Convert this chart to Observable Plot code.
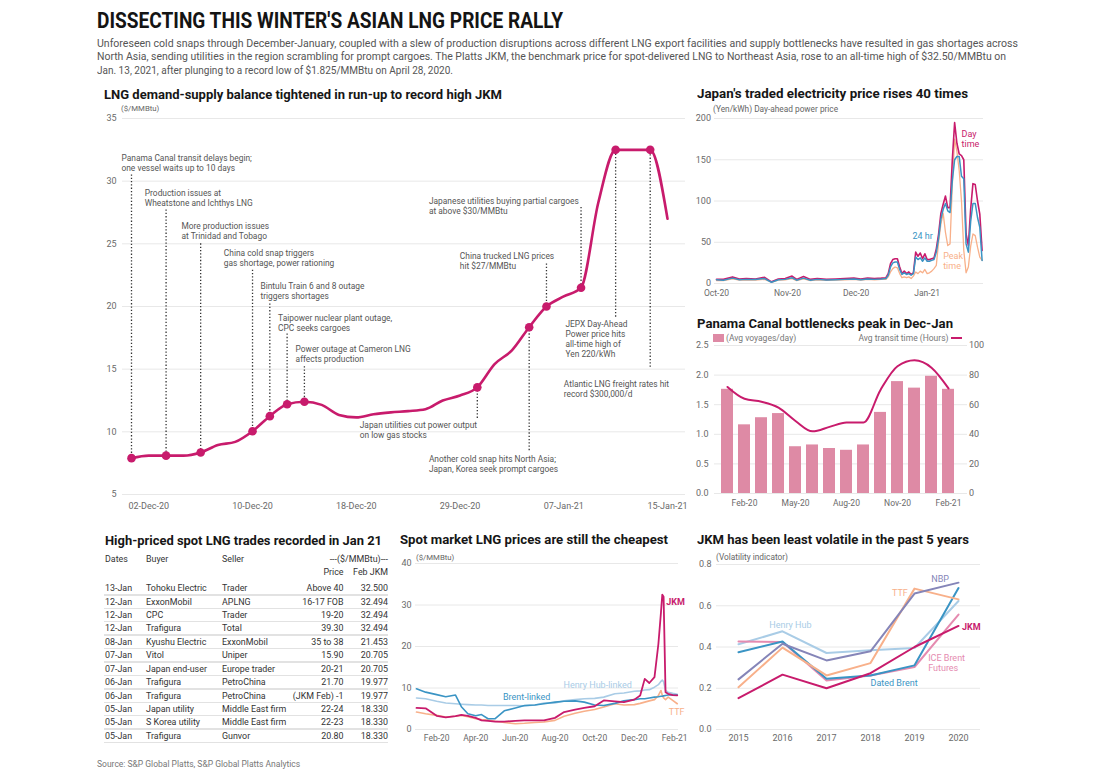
<!DOCTYPE html>
<html><head><meta charset="utf-8">
<script src="https://cdn.jsdelivr.net/npm/d3@7"></script>
<script src="https://cdn.jsdelivr.net/npm/@observablehq/plot@0.6"></script>
<style>
body{margin:0;background:#fff;}
#root{position:relative;width:1100px;height:779px;overflow:hidden;background:#fff;font-family:Roboto,sans-serif;}
.t{position:absolute;white-space:pre;}
.abs{position:absolute;}
</style></head><body><div id="root"></div>
<script>
// ---------- DATA ----------
// Panel 1: JKM daily (trading days)
const jkmDays = ["01-Dec-20","02-Dec-20","03-Dec-20","04-Dec-20","07-Dec-20","08-Dec-20","09-Dec-20","10-Dec-20","11-Dec-20","14-Dec-20","15-Dec-20","16-Dec-20","17-Dec-20","18-Dec-20","21-Dec-20","22-Dec-20","23-Dec-20","24-Dec-20","28-Dec-20","29-Dec-20","30-Dec-20","31-Dec-20","04-Jan-21","05-Jan-21","06-Jan-21","07-Jan-21","08-Jan-21","11-Jan-21","12-Jan-21","13-Jan-21","14-Jan-21","15-Jan-21"];
const jkmValues = [7.9,8.1,8.1,8.1,8.35,8.95,9.2,10.05,11.25,12.2,12.4,12.15,11.35,11.15,11.4,11.55,11.65,11.8,12.5,12.9,13.55,15.4,16.5,18.35,20.0,20.8,21.5,28.3,32.5,32.5,32.5,27.0];
const jkmTicks = ["02-Dec-20","10-Dec-20","18-Dec-20","29-Dec-20","07-Jan-21","15-Jan-21"];
const jkmYTicks = [5,10,15,20,25,30,35];
const jkmEvents = [
  {day:"01-Dec-20", end:30.5, text:"Panama Canal transit delays begin;\none vessel waits up to 10 days", tx:-0.58, ty:31.84},
  {day:"03-Dec-20", end:27.7, text:"Production issues at\nWheatstone and Ichthys LNG", tx:0.77, ty:29.05},
  {day:"07-Dec-20", end:25.0, text:"More production issues\nat Trinidad and Tobago", tx:2.89, ty:26.41},
  {day:"10-Dec-20", end:22.9, text:"China cold snap triggers\ngas shortage, power rationing", tx:5.34, ty:24.26},
  {day:"11-Dec-20", end:20.2, text:"Bintulu Train 6 and 8 outage\ntriggers shortages", tx:7.46, ty:21.6},
  {day:"14-Dec-20", end:17.8, text:"Taipower nuclear plant outage,\nCPC seeks cargoes", tx:8.48, ty:19.02},
  {day:"15-Dec-20", end:15.2, text:"Power outage at Cameron LNG\naffects production", tx:9.49, ty:16.55},
  {day:"30-Dec-20", end:11.07, text:"Japan utilities cut power output\non low gas stocks", tx:13.2, ty:10.51},
  {day:"05-Jan-21", end:8.5, text:"Another cold snap hits North Asia;\nJapan, Korea seek prompt cargoes", tx:17.2, ty:7.77},
  {day:"06-Jan-21", end:23.4, text:"China trucked LNG prices\nhit $27/MMBtu", tx:18.99, ty:24.0},
  {day:"08-Jan-21", end:27.9, text:"Japanese utilities buying partial cargoes\nat above $30/MMBtu", tx:17.2, ty:28.38},
  {day:"12-Jan-21", end:19.15, text:"JEPX Day-Ahead\nPower price hits\nall-time high of\nYen 220/kWh", tx:25.1, ty:18.57},
  {day:"14-Jan-21", end:15.15, text:"Atlantic LNG freight rates hit\nrecord $300,000/d", tx:25.0, ty:13.75}
];

// Panel 2: JEPX day-ahead prices (Yen/kWh)
const elecDates = ["2020-10-01","2020-10-04","2020-10-08","2020-10-11","2020-10-14","2020-10-18","2020-10-22","2020-10-25","2020-10-28","2020-10-31","2020-11-03","2020-11-05","2020-11-08","2020-11-11","2020-11-14","2020-11-18","2020-11-22","2020-11-26","2020-11-30","2020-12-03","2020-12-06","2020-12-09","2020-12-12","2020-12-14","2020-12-15","2020-12-16","2020-12-17","2020-12-18","2020-12-19","2020-12-20","2020-12-21","2020-12-22","2020-12-23","2020-12-24","2020-12-25","2020-12-26","2020-12-27","2020-12-28","2020-12-29","2020-12-30","2020-12-31","2021-01-01","2021-01-02","2021-01-03","2021-01-04","2021-01-05","2021-01-06","2021-01-07","2021-01-08","2021-01-09","2021-01-10","2021-01-11","2021-01-12","2021-01-13","2021-01-14","2021-01-15","2021-01-16","2021-01-17","2021-01-18","2021-01-19","2021-01-20","2021-01-21","2021-01-22","2021-01-23","2021-01-24","2021-01-25"];
const elecDay  = [5,5,8,5.5,6,5.5,7.5,2,5.5,6,9,5,8.5,5,6,5,5.5,6,6.5,5.5,6.5,6,6.5,7,12,24,29,30,30,20,12,15,12,14,11,13,38,33,37,30,36,29,29,30,31,42,60,85,96,106,92,92,150,195,170,157,155,150,60,46,90,121,120,100,84,40];
const elec24h  = [4.5,4,6.5,4.5,5,4.8,6,1.5,4.5,5,7,4,6.5,4,5,4.2,4.5,5,5.5,4.5,5.5,5,5.5,6,10,20,25,26,26,17,11,13,11,12,10,12,32,29,31,27,31,27,27,28,29,38,55,78,90,97,88,86,125,150,154,154,130,127,48,38,75,97,97,80,68,28];
const elecPeak = [3.5,3.5,5.5,4,4.5,4.2,5,1.5,4,4.5,6,3.5,5.5,3.5,4.5,3.8,4,4.5,5,4,5,4.5,5,5,8,14,18,20,19,12,7,8,7,8,6,9,14,12,15,13,17,12,13,15,18,22,50,72,85,62,46,48,120,175,160,137,100,40,13,20,45,60,58,44,32,28];
const elecYTicks = [0,50,100,150,200];
const elecXTicks = ["2020-10-01","2020-11-01","2020-12-01","2021-01-01"];

// Panel 3: Panama Canal
const canalMonths = ["Jan-20","Feb-20","Mar-20","Apr-20","May-20","Jun-20","Jul-20","Aug-20","Sep-20","Oct-20","Nov-20","Dec-20","Jan-21","Feb-21"];
const canalVoyages = [1.76,1.16,1.28,1.35,0.79,0.82,0.76,0.73,0.82,1.37,1.89,1.78,1.98,1.76];
const canalHours = [72,64,62,58,49,42,45,48,48,70,86,90,85,71];
const canalTicks = ["Feb-20","May-20","Aug-20","Nov-20","Feb-21"];
const canalLeftTicks = [0,0.5,1,1.5,2,2.5];
const canalRightTicks = [0,20,40,60,80,100];

// Panel 4: table
const tDates  = ["13-Jan","12-Jan","12-Jan","12-Jan","08-Jan","07-Jan","07-Jan","06-Jan","06-Jan","05-Jan","05-Jan","05-Jan"];
const tBuyer  = ["Tohoku Electric","ExxonMobil","CPC","Trafigura","Kyushu Electric","Vitol","Japan end-user","Trafigura","Trafigura","Japan utility","S Korea utility","Trafigura"];
const tSeller = ["Trader","APLNG","Trader","Total","ExxonMobil","Uniper","Europe trader","PetroChina","PetroChina","Middle East firm","Middle East firm","Gunvor"];
const tPrice  = ["Above 40","16-17 FOB","19-20","39.30","35 to 38","15.90","20-21","21.70","(JKM Feb) -1","22-24","22-23","20.80"];
const tJkm    = ["32.500","32.494","32.494","32.494","21.453","20.705","20.705","19.977","19.977","18.330","18.330","18.330"];

// Panel 5: spot prices ($/MMBtu)
const spotDates = ["2020-01-01","2020-01-15","2020-02-01","2020-02-15","2020-03-01","2020-03-10","2020-03-20","2020-04-01","2020-04-10","2020-04-20","2020-05-01","2020-05-15","2020-06-01","2020-06-15","2020-07-01","2020-07-15","2020-08-01","2020-08-15","2020-09-01","2020-09-15","2020-10-01","2020-10-15","2020-11-01","2020-11-15","2020-12-01","2020-12-10","2020-12-17","2020-12-24","2021-01-01","2021-01-07","2021-01-11","2021-01-13","2021-01-15","2021-01-18","2021-01-22","2021-01-29","2021-02-05"];
const spotJKM   = [5.2,5.1,3.3,2.9,3.2,3.5,3.3,2.8,2.2,2.1,1.9,1.9,2.1,2.2,2.2,2.2,2.8,4.2,4.8,5.2,5.6,7.0,6.8,6.6,7.2,8.2,12.2,11.2,12.6,20.6,28.3,32.5,32.0,9.0,8.6,8.3,8.2];
const spotBrent = [9.8,9.0,8.4,7.9,8.3,5.5,3.8,3.3,3.6,2.6,2.6,4.5,5.2,5.8,5.9,6.2,6.6,6.8,6.9,6.6,5.9,5.8,6.3,6.9,7.2,7.4,7.4,7.6,7.8,7.9,8.0,8.0,8.1,8.2,8.3,8.3,8.3];
const spotHH    = [7.6,7.4,6.8,6.4,6.2,6.1,6.0,5.9,5.9,5.8,5.8,5.8,5.8,5.7,5.9,6.4,6.4,6.9,7.2,7.4,7.5,7.8,8.6,8.8,9.2,9.3,9.5,9.6,10.2,10.8,11.6,11.9,11.5,9.4,9.0,8.7,8.5];
const spotTTF   = [4.2,3.8,3.4,3.0,3.2,3.4,3.1,2.6,2.4,2.3,2.0,1.7,1.4,1.5,1.7,1.8,2.2,3.2,3.9,4.4,4.8,5.4,6.2,5.9,6.0,6.3,6.6,6.9,7.2,8.2,9.4,8.2,7.6,7.2,7.8,7.0,6.2];
const spotYTicks = [0,10,20,30,40];
const spotXTicks = ["2020-02-01","2020-04-01","2020-06-01","2020-08-01","2020-10-01","2020-12-01","2021-02-01"];

// Panel 6: volatility
const volYears = [2015,2016,2017,2018,2019,2020];
const volJKM   = [0.152,0.266,0.200,0.273,0.400,0.502];
const volHH    = [0.413,0.476,0.371,0.384,0.395,0.623];
const volNBP   = [0.243,0.416,0.335,0.379,0.659,0.712];
const volTTF   = [0.205,0.397,0.262,0.322,0.683,0.631];
const volDated = [0.375,0.427,0.246,0.262,0.311,0.686];
const volICE   = [0.427,0.424,0.238,0.262,0.303,0.557];
const volYTicks = [0,0.2,0.4,0.6,0.8];

// ---------- STYLE ----------
const MAG = "#c81b6c", ORANGE = "#f8b08a", BLUE = "#3a94c4", LBLUE = "#a9cce6", PURPLE = "#8585b8", PINK = "#e58bb0", BARPINK = "#de8aa5";
const GRID = "#e8e8e8", TICK = "#6a6a6a";
const baseStyle = {fontFamily: "Roboto, sans-serif", fontSize: "8.5px", color: TICK, background: "transparent", overflow: "visible"};

const root = document.getElementById("root");
function label(text, left, cy, o = {}) {
  const size = o.size ?? 8.5, lh = o.lh ?? Math.round(size * 1.2 * 10) / 10;
  const d = document.createElement("div"); d.className = "t";
  d.style.cssText = `top:${cy - lh / 2}px;font:${o.weight ?? 400} ${size}px/${lh}px ${o.family ?? "Roboto, sans-serif"};color:${o.color ?? "#666"};`;
  if (o.right != null) { d.style.right = (1100 - o.right) + "px"; d.style.textAlign = "right"; } else d.style.left = left + "px";
  if (o.ls) d.style.letterSpacing = o.ls;
  d.textContent = text; root.appendChild(d);
  if (o.fit) {
    const w = d.getBoundingClientRect().width;
    if (w > 0) { d.style.transformOrigin = o.right != null ? "right center" : "left center"; d.style.transform = `scaleX(${o.fit / w})`; }
  }
  return d;
}
function place(node, left, top) { const w = document.createElement("div"); w.className = "abs"; w.style.left = left + "px"; w.style.top = top + "px"; w.appendChild(node); root.appendChild(w); }
function box(left, top, w, h, color) { const d = document.createElement("div"); d.className = "abs"; d.style.cssText += `left:${left}px;top:${top}px;width:${w}px;height:${h}px;background:${color};`; root.appendChild(d); }

// ---------- HEADER ----------
label("DISSECTING THIS WINTER'S ASIAN LNG PRICE RALLY", 97, 21, {size: 22, weight: 700, color: "#141414", fit: 466});
const sub = [
  "Unforeseen cold snaps through December-January, coupled with a slew of production disruptions across different LNG export facilities and supply bottlenecks have resulted in gas shortages across",
  "North Asia, sending utilities in the region scrambling for prompt cargoes. The Platts JKM, the benchmark price for spot-delivered LNG to Northeast Asia, rose to an all-time high of $32.50/MMBtu on",
  "Jan. 13, 2021, after plunging to a record low of $1.825/MMBtu on April 28, 2020."];
const subW = [921, 909, 356];
sub.forEach((s, i) => label(s, 97, 44 + i * 13.2, {size: 11.3, color: "#555", fit: subW[i]}));

const TT = {size: 12.5, weight: 700, color: "#161616"};
label("LNG demand-supply balance tightened in run-up to record high JKM", 104, 94, {...TT, fit: 398});
label("Japan's traded electricity price rises 40 times", 697, 93, {...TT, fit: 271});
label("Panama Canal bottlenecks peak in Dec-Jan", 697, 323, {...TT, fit: 256});
label("High-priced spot LNG trades recorded in Jan 21", 105, 540, {...TT, fit: 277});
label("Spot market LNG prices are still the cheapest", 400, 539, {...TT, fit: 268});
label("JKM has been least volatile in the past 5 years", 697, 539, {...TT, fit: 272});

label("($/MMBtu)", 121, 109, {size: 7.8});
label("(Yen/kWh) Day-ahead power price", 713, 109, {size: 8.3});
label("($/MMBtu)", 416, 558, {size: 7.8});
label("(Volatility indicator)", 716, 557, {size: 8.3});
label("Source: S&P Global Platts, S&P Global Platts Analytics", 97, 764, {size: 8.5, color: "#777"});

// ---------- PANEL 1 ----------
{
  const data = jkmValues.map((v, i) => ({i, v}));
  const marked = [0, 2, 4, 7, 8, 9, 10, 20, 23, 24, 26, 28, 30].map(i => data[i]);
  const ev = jkmEvents.map(e => ({...e, i: jkmDays.indexOf(e.day), v: jkmValues[jkmDays.indexOf(e.day)]}));
  const p = Plot.plot({
    width: 600, height: 420, marginLeft: 27, marginRight: 10, marginTop: 18, marginBottom: 26,
    style: baseStyle,
    x: {domain: [0, jkmDays.length - 1], range: [36, 572]},
    y: {domain: [5, 35]},
    marks: [
      Plot.ruleY(jkmYTicks, {stroke: GRID, strokeWidth: 1}),
      Plot.axisY({ticks: jkmYTicks, tickSize: 0, tickPadding: 6, label: null, fontSize: 9, fill: TICK}),
      Plot.axisX({ticks: jkmTicks.map(d => jkmDays.indexOf(d)), tickFormat: i => jkmDays[i], tickSize: 0, tickPadding: 8, label: null, fontSize: 9, fill: TICK}),
      Plot.ruleX(ev, {x: "i", y1: "end", y2: "v", stroke: "#333", strokeWidth: 1.3, strokeDasharray: "1.3,2"}),
      Plot.line(data, {x: "i", y: "v", stroke: MAG, strokeWidth: 2.6, curve: "monotone-x"}),
      Plot.dot(marked, {x: "i", y: "v", r: 4.3, fill: MAG}),
      Plot.text(ev, {x: "tx", y: "ty", text: "text", textAnchor: "start", lineAnchor: "top", dy: -4.6, fill: "#555", fontSize: 8.4, lineHeight: 1.2})
    ]
  });
  place(p, 95, 100);
}

// ---------- PANEL 2 ----------
{
  const P = d3.utcParse("%Y-%m-%d");
  const rows = elecDates.map((d, k) => ({date: P(d), day: elecDay[k], h24: elec24h[k], peak: elecPeak[k]}));
  const p = Plot.plot({
    width: 300, height: 190, marginLeft: 19, marginRight: 12, marginTop: 6, marginBottom: 19,
    style: baseStyle,
    x: {type: "utc", domain: [P("2020-10-01"), P("2021-01-25")], range: [21, 286.6]},
    y: {domain: [0, 200]},
    marks: [
      Plot.ruleY(elecYTicks, {stroke: GRID}),
      Plot.axisY({ticks: elecYTicks, tickSize: 0, tickPadding: 3.5, label: null, fontSize: 9, fill: TICK}),
      Plot.axisX({ticks: elecXTicks.map(P), tickFormat: d3.utcFormat("%b-%y"), tickSize: 0, tickPadding: 6, label: null, fontSize: 8.5, fill: TICK}),
      Plot.line(rows, {x: "date", y: "peak", stroke: ORANGE, strokeWidth: 1.3}),
      Plot.line(rows, {x: "date", y: "day", stroke: MAG, strokeWidth: 1.6}),
      Plot.line(rows, {x: "date", y: "h24", stroke: BLUE, strokeWidth: 1.5}),
      Plot.text([{x: P("2021-01-16"), y: 175, t: "Day\ntime"}], {x: "x", y: "y", text: "t", fill: MAG, textAnchor: "start", fontSize: 9, lineHeight: 1.1}),
      Plot.text([{x: P("2020-12-30"), y: 58, t: "24 hr"}], {x: "x", y: "y", text: "t", fill: BLUE, textAnchor: "middle", fontSize: 9}),
      Plot.text([{x: P("2021-01-08"), y: 28, t: "Peak\ntime"}], {x: "x", y: "y", text: "t", fill: ORANGE, textAnchor: "start", fontSize: 9, lineHeight: 1.1})
    ]
  });
  place(p, 695, 112);
}

// ---------- PANEL 3 ----------
{
  const rows = canalMonths.map((m, k) => ({m, v: canalVoyages[k], h: canalHours[k] / 40}));
  const p = Plot.plot({
    width: 300, height: 170, marginLeft: 19, marginRight: 28, marginTop: 5, marginBottom: 17,
    style: baseStyle,
    x: {type: "band", domain: canalMonths, range: [17.9, 266.9], paddingInner: 0.29, paddingOuter: 0.1},
    y: {domain: [0, 2.5]},
    marks: [
      Plot.ruleY(canalLeftTicks, {stroke: GRID}),
      Plot.barY(rows, {x: "m", y: "v", fill: BARPINK}),
      Plot.line(rows, {x: "m", y: "h", stroke: MAG, strokeWidth: 2, curve: "monotone-x"}),
      Plot.axisY({ticks: canalLeftTicks, tickFormat: d3.format(".1f"), tickSize: 0, tickPadding: 6, label: null, fontSize: 9, fill: TICK}),
      Plot.axisY({anchor: "right", ticks: canalRightTicks.map(d => d / 40), tickFormat: d => Math.round(d * 40), tickSize: 0, tickPadding: 1.5, label: null, fontSize: 9, fill: TICK}),
      Plot.axisX({ticks: canalTicks, tickSize: 0, tickPadding: 6, label: null, fontSize: 8.5, fill: TICK})
    ]
  });
  place(p, 695, 340);
  box(713, 334, 10.5, 8, BARPINK);
  label("(Avg voyages/day)", 726, 338.5, {size: 8.5, color: "#777"});
  label("Avg transit time (Hours)", 0, 338.5, {size: 8.5, color: "#777", right: 948.5});
  box(951, 337.2, 11, 2, MAG);
}

// ---------- PANEL 4: table ----------
{
  const F = {size: 8.9, color: "#333"};
  label("Dates", 105, 559.5, F); label("Buyer", 146, 559.5, F); label("Seller", 222, 559.5, F);
  label("---($/MMBtu)---", 0, 559.5, {...F, right: 388});
  label("Price", 0, 572.8, {...F, right: 343.5}); label("Feb JKM", 0, 572.8, {...F, right: 388});
  tDates.forEach((d, i) => {
    const cy = 588.5 + i * 13.43;
    label(d, 105, cy, F); label(tBuyer[i], 146, cy, F); label(tSeller[i], 222, cy, F);
    label(tPrice[i], 0, cy, {...F, right: 343.5}); label(tJkm[i], 0, cy, {...F, right: 388});
    box(104, cy + 5.6, 284, 1.5, "#e2e2e2");
  });
}

// ---------- PANEL 5 ----------
{
  const P = d3.utcParse("%Y-%m-%d");
  const rows = spotDates.map((d, k) => ({date: P(d), jkm: spotJKM[k], brent: spotBrent[k], hh: spotHH[k], ttf: spotTTF[k]}));
  const lab = (t, d, y, c, o = {}) => Plot.text([{x: P(d), y, t}], {x: "x", y: "y", text: "t", fill: c, textAnchor: "start", fontSize: 9, ...o});
  const p = Plot.plot({
    width: 300, height: 190, marginLeft: 25, marginRight: 12, marginTop: 8, marginBottom: 16,
    style: baseStyle,
    x: {type: "utc", domain: [P("2020-01-01"), P("2021-02-10")], range: [26, 290]},
    y: {domain: [0, 40]},
    marks: [
      Plot.ruleY(spotYTicks, {stroke: GRID}),
      Plot.axisY({ticks: spotYTicks, tickSize: 0, tickPadding: 4, label: null, fontSize: 9, fill: TICK}),
      Plot.axisX({ticks: spotXTicks.map(P), tickFormat: d3.utcFormat("%b-%y"), tickSize: 0, tickPadding: 5, label: null, fontSize: 8.5, fill: TICK}),
      Plot.line(rows, {x: "date", y: "hh", stroke: LBLUE, strokeWidth: 1.6}),
      Plot.line(rows, {x: "date", y: "ttf", stroke: ORANGE, strokeWidth: 1.6}),
      Plot.line(rows, {x: "date", y: "brent", stroke: BLUE, strokeWidth: 1.6}),
      Plot.line(rows, {x: "date", y: "jkm", stroke: MAG, strokeWidth: 1.8}),
      lab("JKM", "2021-01-19", 30.8, MAG, {fontWeight: 700}),
      lab("Henry Hub-linked", "2020-08-14", 10.7, LBLUE),
      lab("Brent-linked", "2020-05-13", 7.9, BLUE),
      lab("TTF", "2021-01-23", 4.2, ORANGE)
    ]
  });
  place(p, 390, 555);
}

// ---------- PANEL 6 ----------
{
  const series = [
    {name: "Henry Hub", vals: volHH, c: LBLUE},
    {name: "ICE Brent Futures", vals: volICE, c: PINK},
    {name: "Dated Brent", vals: volDated, c: BLUE},
    {name: "TTF", vals: volTTF, c: ORANGE},
    {name: "NBP", vals: volNBP, c: PURPLE},
    {name: "JKM", vals: volJKM, c: MAG}
  ];
  const lab = (t, x, y, c, o = {}) => Plot.text([{x, y, t}], {x: "x", y: "y", text: "t", fill: c, textAnchor: "start", fontSize: 9, ...o});
  const p = Plot.plot({
    width: 300, height: 190, marginLeft: 26, marginRight: 10, marginTop: 9, marginBottom: 16,
    style: baseStyle,
    x: {domain: [2015, 2020], range: [48, 268]},
    y: {domain: [0, 0.8]},
    marks: [
      Plot.ruleY(volYTicks, {stroke: GRID}),
      Plot.axisY({ticks: volYTicks, tickFormat: d3.format(".1f"), tickSize: 0, tickPadding: 5, label: null, fontSize: 9, fill: TICK}),
      Plot.axisX({ticks: volYears, tickFormat: d => String(d), tickSize: 0, tickPadding: 5, label: null, fontSize: 9, fill: TICK}),
      ...series.map(s => Plot.line(volYears.map((y, k) => ({y, v: s.vals[k]})), {x: "y", y: "v", stroke: s.c, strokeWidth: 2})),
      lab("NBP", 2019.38, 0.728, PURPLE),
      lab("TTF", 2018.49, 0.659, ORANGE),
      lab("Henry Hub", 2015.70, 0.505, LBLUE),
      lab("JKM", 2020.08, 0.497, MAG, {fontWeight: 700}),
      lab("ICE Brent\nFutures", 2019.31, 0.323, PINK, {lineHeight: 1.05}),
      lab("Dated Brent", 2018.0, 0.227, BLUE)
    ]
  });
  place(p, 690, 555);
}
</script></body></html>
